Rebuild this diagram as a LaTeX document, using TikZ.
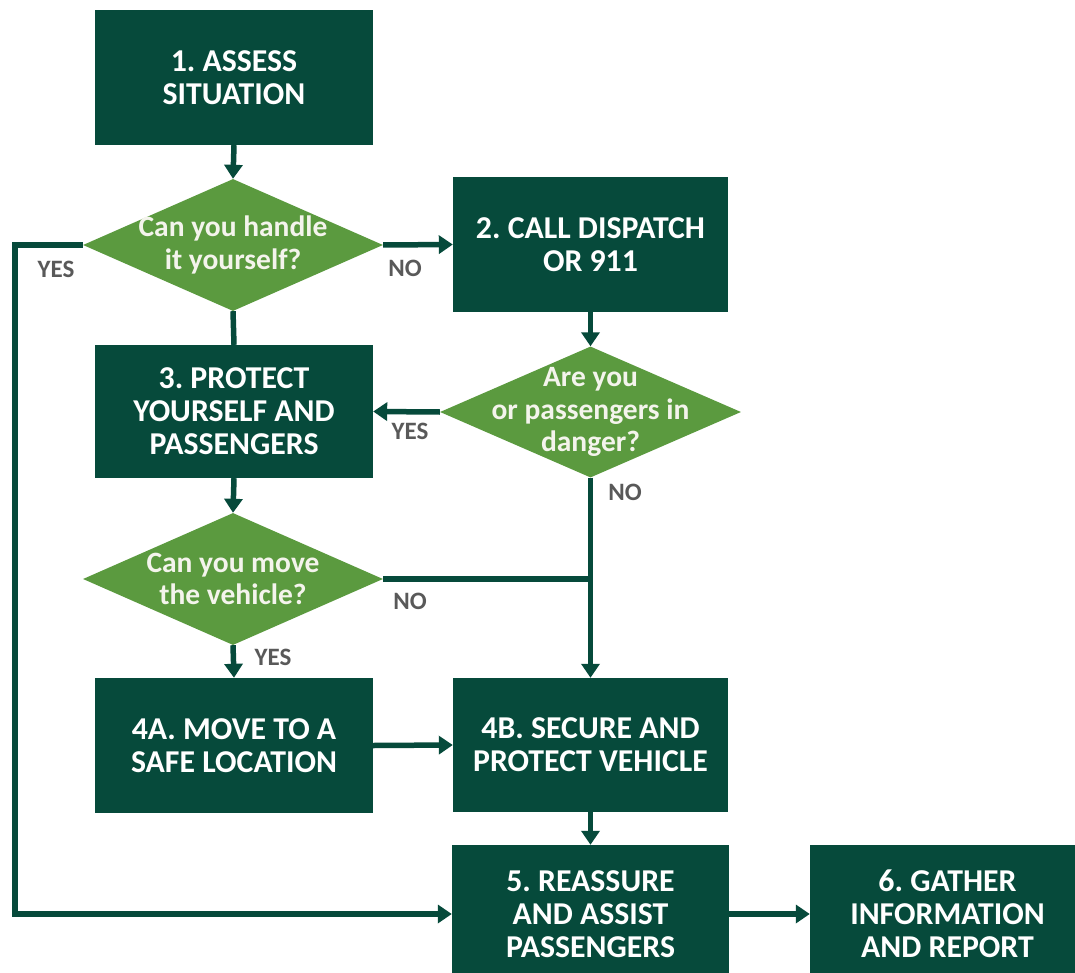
\documentclass[tikz,border=0pt]{standalone}
\usepackage{fontspec}
\setmainfont{Carlito}
\frenchspacing
\usetikzlibrary{shapes.geometric,arrows.meta}
\definecolor{dkgreen}{HTML}{064A3B}
\definecolor{ltgreen}{HTML}{5B9A3F}
\definecolor{lblgray}{HTML}{595959}
\definecolor{diawhite}{HTML}{F4F4EC}
\begin{document}
\begin{tikzpicture}[x=1pt,y=-1pt,
  stepbox/.style={rectangle,fill=dkgreen,text=white,inner sep=0pt,align=center,
    font=\bfseries\fontsize{31.8}{33}\selectfont},
  dia/.style={diamond,fill=ltgreen,inner sep=0pt,aspect=2.27},
  diatext/.style={text=diawhite,align=center,inner sep=0pt,
    font=\bfseries\fontsize{29.5}{32.5}\selectfont},
  lbl/.style={text=lblgray,inner sep=0pt,font=\bfseries\fontsize{25}{27}\selectfont},
  link/.style={draw=dkgreen,line width=5.5pt},
  arr/.style={link,-{Triangle[width=18pt,length=14pt]}}]
\useasboundingbox (0,0) rectangle (1075,973);
\clip (0,0) rectangle (1075,973);
% boxes
\node[stepbox,minimum width=278pt,minimum height=135pt] (b1) at (234,77.5) {1. ASSESS\\SITUATION};
\node[stepbox,minimum width=275pt,minimum height=135pt] (b2) at (590.5,244.5) {2. CALL DISPATCH\\OR 911};
\node[stepbox,minimum width=278pt,minimum height=133pt] (b3) at (234,411.5) {3. PROTECT\\YOURSELF AND\\PASSENGERS};
\node[stepbox,minimum width=278pt,minimum height=135pt] (b4a) at (234,745.5) {4A. MOVE TO A\\SAFE LOCATION};
\node[stepbox,minimum width=275pt,minimum height=134pt] (b4b) at (590.5,745) {4B. SECURE AND\\PROTECT VEHICLE};
\node[stepbox,minimum width=277pt,minimum height=138pt] (b5) at (590.5,914) {5. REASSURE\\AND ASSIST\\PASSENGERS};
\node[stepbox,minimum width=275pt,minimum height=138pt] (b6) at (947.5,914) {6. GATHER\\INFORMATION\\AND REPORT};
% diamonds
\node[dia,minimum width=300pt,minimum height=132pt] (d1) at (233,245) {};
\node[diatext] at (d1) {Can you handle\\it yourself?};
\node[dia,minimum width=301pt,minimum height=131pt] (d2) at (590.5,412) {};
\node[diatext] at (d2) {Are you\\or passengers in\\danger?};
\node[dia,minimum width=300pt,minimum height=132pt] (d3) at (233,579) {};
\node[diatext] at (d3) {Can you move\\the vehicle?};
% connectors
\coordinate (yl) at (15,245);
\draw[arr] (b1.south) -- (d1.north);
\draw[arr] (d1.east) -- (b2.west);
\draw[link] (d1.south) -- (b3.north);
\draw[arr] (d1.west) -- (yl) |- (b5.west);
\draw[arr] (b2.south) -- (d2.north);
\draw[arr] (d2.west) -- (b3.east);
\draw[arr] (d2.south) -- (b4b.north);
\draw[arr] (b3.south) -- (d3.north);
\draw[link] (d3.east) -- (d2.south |- d3.east);
\draw[arr] (d3.south) -- (b4a.north);
\draw[arr] (b4a.east) -- (b4b.west);
\draw[arr] (b4b.south) -- (b5.north);
\draw[arr] (b5.east) -- (b6.west);
% labels
\node[lbl] (l1) at (56,269) {YES};
\node[lbl] (l2) at (405,268) {NO};
\node[lbl] (l3) at (410,431) {YES};
\node[lbl] (l4) at (625,492) {NO};
\node[lbl] (l5) at (410,601) {NO};
\node[lbl] (l6) at (273,657) {YES};
\end{tikzpicture}
\end{document}
